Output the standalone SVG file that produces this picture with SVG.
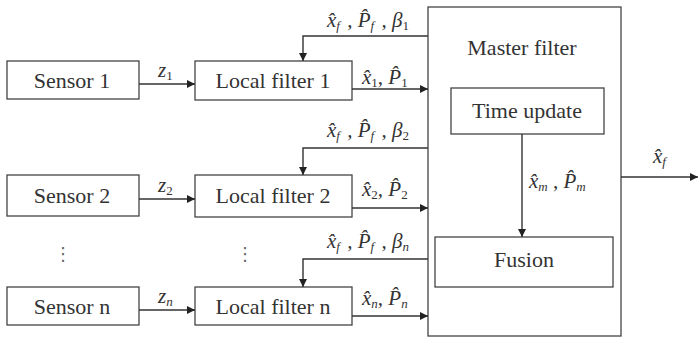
<svg xmlns="http://www.w3.org/2000/svg" width="699" height="338" viewBox="0 0 699 338">
<style>
.box{fill:#fff;stroke:#444;stroke-width:1.3}
.lbl{font-family:'Liberation Serif','Times New Roman',serif;font-size:22px;fill:#333;text-anchor:middle}
.m{font-family:'Liberation Serif','Times New Roman',serif;font-style:italic;font-size:21px;fill:#333}
.s{font-size:13px}
.n{font-style:normal}
.ln{fill:none;stroke:#333;stroke-width:1.4}
.dots{font-family:'DejaVu Sans',sans-serif;font-size:18px;fill:#666;text-anchor:middle}
</style>
<defs>
<marker id="ah" viewBox="0 0 10 10" refX="10" refY="5" markerWidth="8" markerHeight="8" markerUnits="userSpaceOnUse" orient="auto"><path d="M0,0 L10,5 L0,10 z" fill="#222"/></marker>
</defs>
<rect width="699" height="338" fill="#fff"/>
<g id="sensor1"><rect class="box" x="7" y="61" width="132" height="38"/><text class="lbl" x="72" y="88">Sensor 1</text></g>
<g id="sensor2"><rect class="box" x="7" y="175" width="132" height="41"/><text class="lbl" x="72" y="203">Sensor 2</text></g>
<g id="sensorn"><rect class="box" x="7" y="287" width="132" height="38"/><text class="lbl" x="72" y="314">Sensor n</text></g>
<g id="lf1"><rect class="box" x="195" y="61" width="157" height="39"/><text class="lbl" x="273" y="88">Local filter 1</text></g>
<g id="lf2"><rect class="box" x="195" y="175" width="157" height="42"/><text class="lbl" x="273" y="203">Local filter 2</text></g>
<g id="lfn"><rect class="box" x="195" y="287" width="157" height="38"/><text class="lbl" x="273" y="314">Local filter n</text></g>
<g id="master"><rect class="box" x="428" y="7" width="193" height="329"/><text class="lbl" x="522" y="55">Master filter</text></g>
<g id="timeupdate"><rect class="box" x="451" y="88" width="153" height="46"/><text class="lbl" x="527" y="118">Time update</text></g>
<g id="fusion"><rect class="box" x="435" y="237" width="178" height="50"/><text class="lbl" x="524" y="267">Fusion</text></g>
<g id="ellipsis"><text class="dots" x="63" y="260">⋮</text><text class="dots" x="245" y="260">⋮</text></g>
<g id="connectors">
<path class="ln" d="M139,84 H195" marker-end="url(#ah)"/>
<path class="ln" d="M139,199 H195" marker-end="url(#ah)"/>
<path class="ln" d="M139,310 H195" marker-end="url(#ah)"/>
<path class="ln" d="M352,89 H428" marker-end="url(#ah)"/>
<path class="ln" d="M352,208 H428" marker-end="url(#ah)"/>
<path class="ln" d="M352,316 H428" marker-end="url(#ah)"/>
<path class="ln" d="M428,36 H303 V61" marker-end="url(#ah)"/>
<path class="ln" d="M428,148 H303 V175" marker-end="url(#ah)"/>
<path class="ln" d="M428,259 H303 V287" marker-end="url(#ah)"/>
<path class="ln" d="M522,134 V237" marker-end="url(#ah)"/>
<path class="ln" d="M621,177 H698" marker-end="url(#ah)"/>
<text class="m" x="158" y="77">z<tspan class="s n" dy="3">1</tspan></text>
<text class="m" x="158" y="192">z<tspan class="s n" dy="3">2</tspan></text>
<text class="m" x="158" y="303">z<tspan class="s" dy="3">n</tspan></text>
<text class="m" x="327" y="27">x̂<tspan class="s" dy="3">f</tspan><tspan dy="-3" dx="2"> , P̂</tspan><tspan class="s" dy="3">f</tspan><tspan dy="-3" dx="2"> , β</tspan><tspan class="s n" dy="3">1</tspan></text>
<text class="m" x="327" y="137">x̂<tspan class="s" dy="3">f</tspan><tspan dy="-3" dx="2"> , P̂</tspan><tspan class="s" dy="3">f</tspan><tspan dy="-3" dx="2"> , β</tspan><tspan class="s n" dy="3">2</tspan></text>
<text class="m" x="327" y="248">x̂<tspan class="s" dy="3">f</tspan><tspan dy="-3" dx="2"> , P̂</tspan><tspan class="s" dy="3">f</tspan><tspan dy="-3" dx="2"> , β</tspan><tspan class="s" dy="3">n</tspan></text>
<text class="m" x="362" y="84">x̂<tspan class="s n" dy="3">1</tspan><tspan dy="-3">, P̂</tspan><tspan class="s n" dy="3">1</tspan></text>
<text class="m" x="362" y="196">x̂<tspan class="s n" dy="3">2</tspan><tspan dy="-3">, P̂</tspan><tspan class="s n" dy="3">2</tspan></text>
<text class="m" x="362" y="305">x̂<tspan class="s" dy="3">n</tspan><tspan dy="-3">, P̂</tspan><tspan class="s" dy="3">n</tspan></text>
<text class="m" x="529" y="188">x̂<tspan class="s" dy="3">m</tspan><tspan dy="-3"> , P̂</tspan><tspan class="s" dy="3">m</tspan></text>
<text class="m" x="653" y="163">x̂<tspan class="s" dy="3">f</tspan></text>
</g>
</svg>
